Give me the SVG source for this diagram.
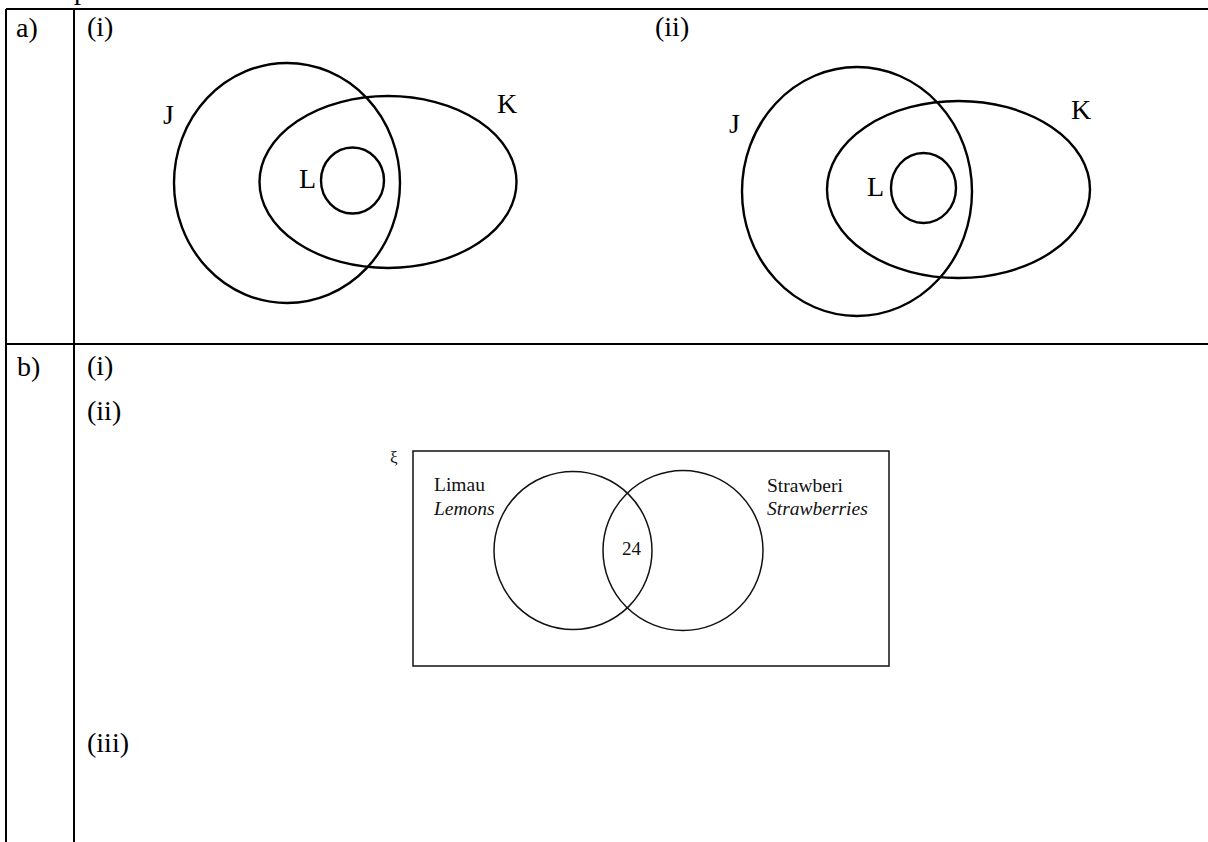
<svg xmlns="http://www.w3.org/2000/svg" width="1208" height="842" viewBox="0 0 1208 842">
<style>
.t{font-family:"Liberation Serif","Times New Roman",serif;font-size:28px;fill:#000}
.s{font-family:"Liberation Serif","Times New Roman",serif;font-size:19.5px;fill:#111}
.i{font-style:italic}
.rule{stroke:#000;stroke-width:2;fill:none}
.v{stroke:#000;stroke-width:2.4;fill:none}
.vb{stroke:#111;stroke-width:1.5;fill:none}
</style>
<rect x="0" y="0" width="1208" height="842" fill="#fff"/>
<g id="table">
<text class="t" x="74" y="-1">p</text>
<line class="rule" x1="6" y1="9" x2="1208" y2="9"/>
<line class="rule" x1="6" y1="344" x2="1208" y2="344"/>
<line class="rule" x1="6" y1="9" x2="6" y2="842"/>
<line class="rule" x1="74" y1="9" x2="74" y2="842"/>
<text class="t" x="16" y="37">a)</text>
<text class="t" x="87" y="36">(i)</text>
<text class="t" x="655" y="36">(ii)</text>
<text class="t" x="17" y="376">b)</text>
<text class="t" x="87" y="375">(i)</text>
<text class="t" x="87" y="420">(ii)</text>
<text class="t" x="87" y="752">(iii)</text>
</g>
<g id="venn-a-i">
<ellipse class="v" cx="287" cy="183" rx="113" ry="120"/>
<ellipse class="v" cx="388" cy="182" rx="128.5" ry="86"/>
<ellipse class="v" cx="352.5" cy="180.5" rx="31.5" ry="33"/>
<text class="t" x="163" y="124">J</text>
<text class="t" x="497" y="113">K</text>
<text class="t" x="299" y="188">L</text>
</g>
<g id="venn-a-ii">
<ellipse class="v" cx="857" cy="191.5" rx="115" ry="124.5"/>
<ellipse class="v" cx="958.5" cy="189.5" rx="131.5" ry="88.5"/>
<ellipse class="v" cx="923.5" cy="188" rx="32.5" ry="35"/>
<text class="t" x="729" y="133">J</text>
<text class="t" x="1071" y="119">K</text>
<text class="t" x="867" y="196">L</text>
</g>
<g id="venn-b">
<rect class="vb" x="413" y="451" width="476" height="215"/>
<text class="s" x="390" y="463" style="font-size:17px">ξ</text>
<circle class="vb" cx="573" cy="550.5" r="79"/>
<circle class="vb" cx="683" cy="550.5" r="80"/>
<text class="s" x="434" y="491">Limau</text>
<text class="s i" x="434" y="515">Lemons</text>
<text class="s" x="767" y="492">Strawberi</text>
<text class="s i" x="767" y="515">Strawberries</text>
<text class="s" x="622" y="555" style="font-size:19px">24</text>
</g>
</svg>
